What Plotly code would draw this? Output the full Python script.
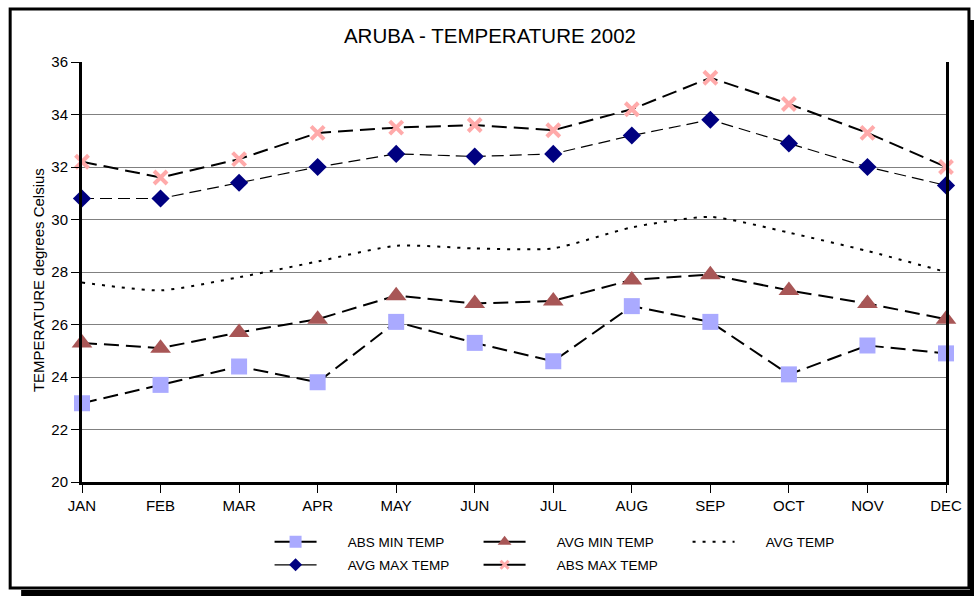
import plotly.graph_objects as go

# Monthly temperatures for Aruba, 2002 (degrees Celsius)
months = ["JAN", "FEB", "MAR", "APR", "MAY", "JUN",
          "JUL", "AUG", "SEP", "OCT", "NOV", "DEC"]
abs_min = [23.0, 23.7, 24.4, 23.8, 26.1, 25.3, 24.6, 26.7, 26.1, 24.1, 25.2, 24.9]
avg_min = [25.3, 25.1, 25.7, 26.2, 27.1, 26.8, 26.9, 27.7, 27.9, 27.3, 26.8, 26.2]
avg_temp = [27.6, 27.3, 27.8, 28.4, 29.0, 28.9, 28.9, 29.7, 30.1, 29.5, 28.8, 28.0]
avg_max = [30.8, 30.8, 31.4, 32.0, 32.5, 32.4, 32.5, 33.2, 33.8, 32.9, 32.0, 31.3]
abs_max = [32.2, 31.6, 32.3, 33.3, 33.5, 33.6, 33.4, 34.2, 35.4, 34.4, 33.3, 32.0]

y_ticks = [20, 22, 24, 26, 28, 30, 32, 34, 36]

FONT = "Liberation Sans, Arial, sans-serif"
PAD = "\u00a0" * 7

# series: (name, values, line width, dash, marker symbol, plot size, legend size, colour, legend)
series = [
    ("ABS MIN TEMP", abs_min, 2, "15px,7px", "square", 16, 12, "#AAAAFF", "legend"),
    ("AVG MIN TEMP", avg_min, 2, "15px,7px", "triangle-up", 18, 12, "#A85656", "legend"),
    ("AVG TEMP", avg_temp, 2, "3px,7px", None, 0, 0, "black", "legend"),
    ("AVG MAX TEMP", avg_max, 1.2, "12px,6px", "diamond", 14, 10, "#000080", "legend2"),
    ("ABS MAX TEMP", abs_max, 2, "15px,7px", "x-thin", 13, 8, "#FFAAAA", "legend2"),
]

fig = go.Figure()

for name, vals, lw, dash, sym, msize, lsize, color, leg in series:
    is_avg = sym is None
    line = dict(color="black", width=lw, dash=dash)
    if is_avg:
        line.update(shape="spline", smoothing=0.6)
    marker = None
    if sym is not None:
        marker = dict(symbol=sym, size=msize, color=color)
        if sym == "x-thin":
            marker["line"] = dict(color=color, width=4)
    fig.add_trace(go.Scatter(
        x=months, y=vals, name=name, legendgroup=name,
        mode="lines" if is_avg else "lines+markers",
        line=line, marker=marker, cliponaxis=False, showlegend=False,
    ))
    # legend key: solid line through a small marker
    key_line = dict(color="black", width=lw)
    key_marker = None
    if is_avg:
        key_line["dash"] = "3px,7px"
    else:
        key_marker = dict(symbol=sym, size=lsize, color=color)
        if sym == "x-thin":
            key_marker["line"] = dict(color=color, width=3)
    fig.add_trace(go.Scatter(
        x=[None], y=[None], name=PAD + name, legendgroup=name,
        mode="lines" if is_avg else "lines+markers",
        line=key_line, marker=key_marker, legend=leg,
    ))

legend_style = dict(
    orientation="h", xanchor="left", yanchor="middle",
    font=dict(family=FONT, size=13.5, color="black"),
    bgcolor="rgba(0,0,0,0)", borderwidth=0,
    itemwidth=42, entrywidth=152, entrywidthmode="pixels",
    traceorder="normal",
)

fig.update_layout(
    width=974, height=596,
    margin=dict(l=82, r=26, t=62, b=114),
    paper_bgcolor="white", plot_bgcolor="white",
    title=dict(text="ARUBA - TEMPERATURE 2002", x=0.503, xanchor="center",
               y=0.94, yanchor="middle",
               font=dict(family=FONT, size=20.5, color="black")),
    font=dict(family=FONT, size=15, color="black"),
    legend=dict(x=(270 - 82) / 866, y=(482 - 542) / 420, **legend_style),
    legend2=dict(x=(270 - 82) / 866, y=(482 - 565) / 420, **legend_style),
    xaxis=dict(
        type="category", range=[0, 11], showgrid=False,
        showline=True, linecolor="black", linewidth=3,
        ticks="outside", ticklen=8, tickcolor="black", tickwidth=1,
        tickfont=dict(family=FONT, size=15, color="black"),
        zeroline=False,
    ),
    yaxis=dict(
        range=[20, 36], tickvals=y_ticks,
        showgrid=True, gridcolor="#808080", gridwidth=1,
        showline=True, mirror=True, linecolor="black", linewidth=3,
        ticks="outside", ticklen=8, tickcolor="black", tickwidth=1,
        tickfont=dict(family=FONT, size=15, color="black"),
        zeroline=False,
    ),
)

# Chart frame with a drop shadow on the right and bottom
def px_x(v):
    return (v - 82) / 866

def px_y(v):
    return (482 - v) / 420

# vertical axis title, set slightly below the plot centre
fig.add_annotation(text="TEMPERATURE degrees Celsius", textangle=-90,
                   xref="paper", yref="paper", x=px_x(38), y=px_y(280),
                   xanchor="center", yanchor="middle", showarrow=False,
                   font=dict(family=FONT, size=15, color="black"))

fig.add_shape(type="rect", xref="paper", yref="paper",
              x0=px_x(21), x1=px_x(990), y0=px_y(590), y1=px_y(610),
              fillcolor="black", line=dict(width=0), layer="below")
fig.add_shape(type="rect", xref="paper", yref="paper",
              x0=px_x(972), x1=px_x(990), y0=px_y(20), y1=px_y(610),
              fillcolor="black", line=dict(width=0), layer="below")
fig.add_shape(type="rect", xref="paper", yref="paper",
              x0=px_x(10), x1=px_x(971), y0=px_y(588), y1=px_y(9),
              line=dict(color="black", width=3), fillcolor="rgba(0,0,0,0)")

fig.write_html("out.html")
